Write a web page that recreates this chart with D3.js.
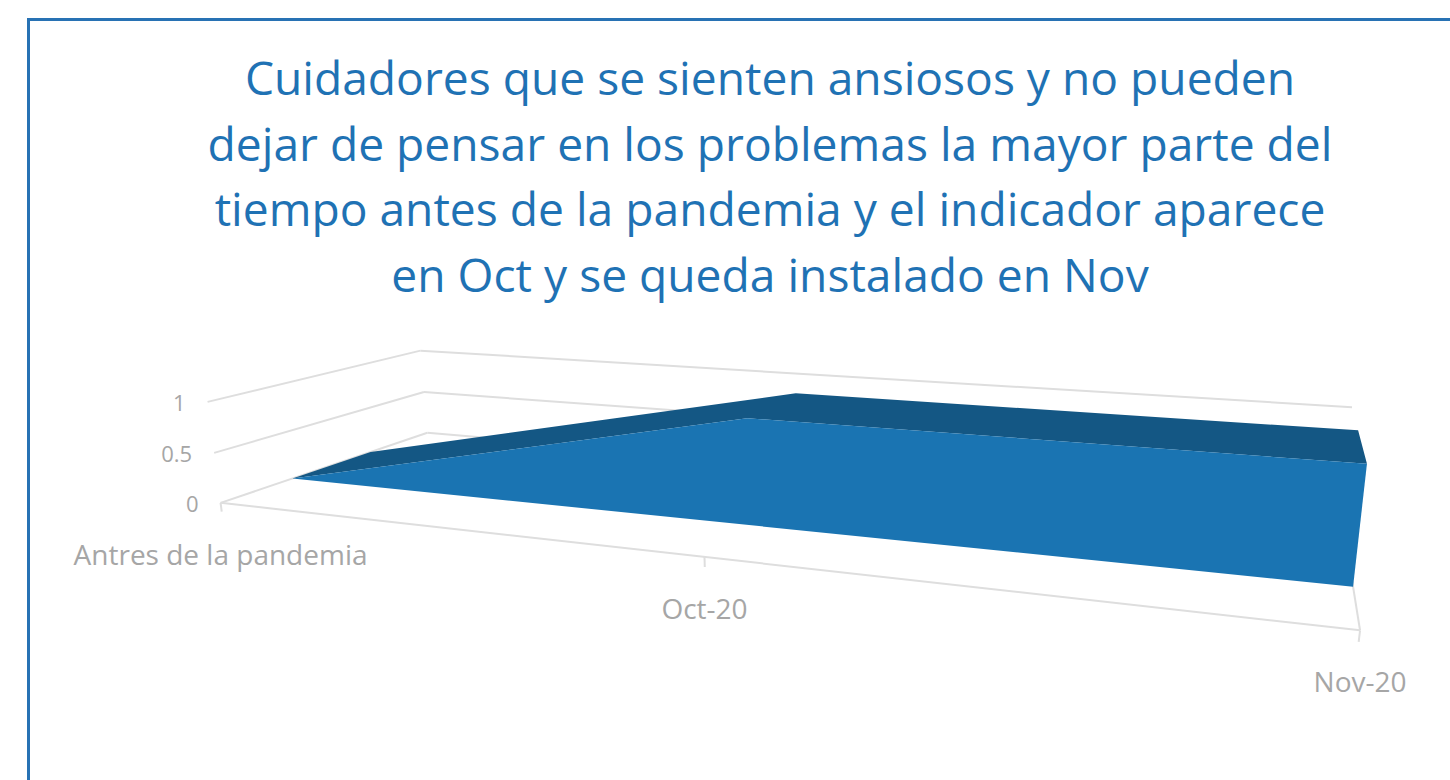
<!DOCTYPE html>
<html>
<head>
<meta charset="utf-8">
<script src="https://cdn.jsdelivr.net/npm/d3@7"></script>
<style>
  html, body { margin: 0; padding: 0; background: #fff; }
  svg { display: block; }
  .grid { stroke: #dedede; stroke-width: 2; fill: none; }
  .lbl { fill: #a6a6a6; font-family: 'Open Sans', sans-serif; }
  .title { fill: #1f72b4; font-family: 'Open Sans', sans-serif; }
</style>
</head>
<body>
<script>

var width = 1450;
var height = 780;

// data
var titleLines = [
  'Cuidadores que se sienten ansiosos y no pueden',
  'dejar de pensar en los problemas la mayor parte del',
  'tiempo antes de la pandemia y el indicador aparece',
  'en Oct y se queda instalado en Nov'
];
var categories = ['Antres de la pandemia', 'Oct-20', 'Nov-20'];
var values = [0, 1, 1];
var yTicks = [0, 0.5, 1];
var yTickLabels = ['0', '0.5', '1'];

// 3d box (world units) and camera
var boxW = 304.8, boxH = 29.6, boxD = 97;
var slabFront = boxD * 0.30, slabBack = boxD * 0.68;
var cam = [280.4, 100, -276];
var yaw = 19 * Math.PI / 180, pitch = 15 * Math.PI / 180;
var focal = 1271, cx0 = 829, cy0 = 484;

var rgt = [Math.cos(yaw), 0, Math.sin(yaw)];
var up = [-Math.sin(yaw) * Math.sin(pitch), Math.cos(pitch), Math.cos(yaw) * Math.sin(pitch)];
var fwd = [-Math.sin(yaw) * Math.cos(pitch), -Math.sin(pitch), Math.cos(yaw) * Math.cos(pitch)];

function dot(a, b) { return a[0] * b[0] + a[1] * b[1] + a[2] * b[2]; }

function project(p) {
  var d = [p[0] - cam[0], p[1] - cam[1], p[2] - cam[2]];
  var zc = dot(fwd, d);
  return [cx0 + focal * dot(rgt, d) / zc, cy0 - focal * dot(up, d) / zc];
}

var x = d3.scalePoint().domain(categories).range([0, boxW]);
var y = d3.scaleLinear().domain([0, 1]).range([0, boxH]);

var line = d3.line();
function seg(a, b) { return line([project(a), project(b)]); }
function poly(pts) { return line(pts.map(project)) + 'Z'; }

var svg = d3.select('body')
            .append('svg')
            .attr('width', width)
            .attr('height', height);

svg.append('rect')
   .attr('x', 28.5).attr('y', 19.5)
   .attr('width', 1600).attr('height', 1000)
   .attr('fill', '#fff')
   .attr('stroke', '#2872b4')
   .attr('stroke-width', 3);

// title, fitted to width
var title = svg.append('text').attr('class', 'title')
               .attr('text-anchor', 'middle')
               .style('font-size', '44px');
title.selectAll('tspan')
     .data(titleLines)
     .enter()
     .append('tspan')
     .attr('x', 770)
     .attr('y', function(d, i) { return 95 + i * 65.5; })
     .text(function(d) { return d; });
var widest = d3.max(title.selectAll('tspan').nodes(), function(n) { return n.getComputedTextLength(); });
title.style('font-size', (44 * 1125 / widest) + 'px');

// walls gridlines
var xEnd = x(categories[categories.length - 1]);
yTicks.forEach(function(v) {
  svg.append('path').attr('class', 'grid').attr('d', seg([0, y(v), 0], [0, y(v), boxD]));
  svg.append('path').attr('class', 'grid').attr('d', seg([0, y(v), boxD], [xEnd, y(v), boxD]));
});

// floor edges
svg.append('path').attr('class', 'grid').attr('d', seg([0, 0, 0], [xEnd, 0, 0]));
svg.append('path').attr('class', 'grid').attr('d', seg([xEnd, 0, 0], [xEnd, 0, boxD]));

// category ticks + labels
categories.forEach(function(c) {
  svg.append('path').attr('class', 'grid').attr('d', seg([x(c), 0, 0], [x(c), y(-0.09), 0]));
  var p = project([x(c), 0, 0]);
  svg.append('text').attr('class', 'lbl')
     .attr('x', p[0]).attr('y', p[1] + 62)
     .attr('text-anchor', 'middle')
     .style('font-size', '28px')
     .text(c);
});

// value labels
yTicks.forEach(function(v, i) {
  var p = project([0, y(v), 0]);
  svg.append('text').attr('class', 'lbl')
     .attr('x', p[0] - 22).attr('y', p[1])
     .attr('text-anchor', 'end')
     .attr('dominant-baseline', 'central')
     .style('font-size', '22px')
     .text(yTickLabels[i]);
});

// area slab
var topFront = categories.map(function(c, i) { return [x(c), y(values[i]), slabFront]; });
var topBack = categories.map(function(c, i) { return [x(c), y(values[i]), slabBack]; }).reverse();
var baseFront = categories.map(function(c) { return [x(c), 0, slabFront]; }).reverse();

svg.append('path')
   .attr('d', poly(topFront.concat(topBack)))
   .attr('fill', '#145784');

svg.append('path')
   .attr('d', poly(topFront.concat(baseFront)))
   .attr('fill', '#1a74b2');

</script>
</body>
</html>
